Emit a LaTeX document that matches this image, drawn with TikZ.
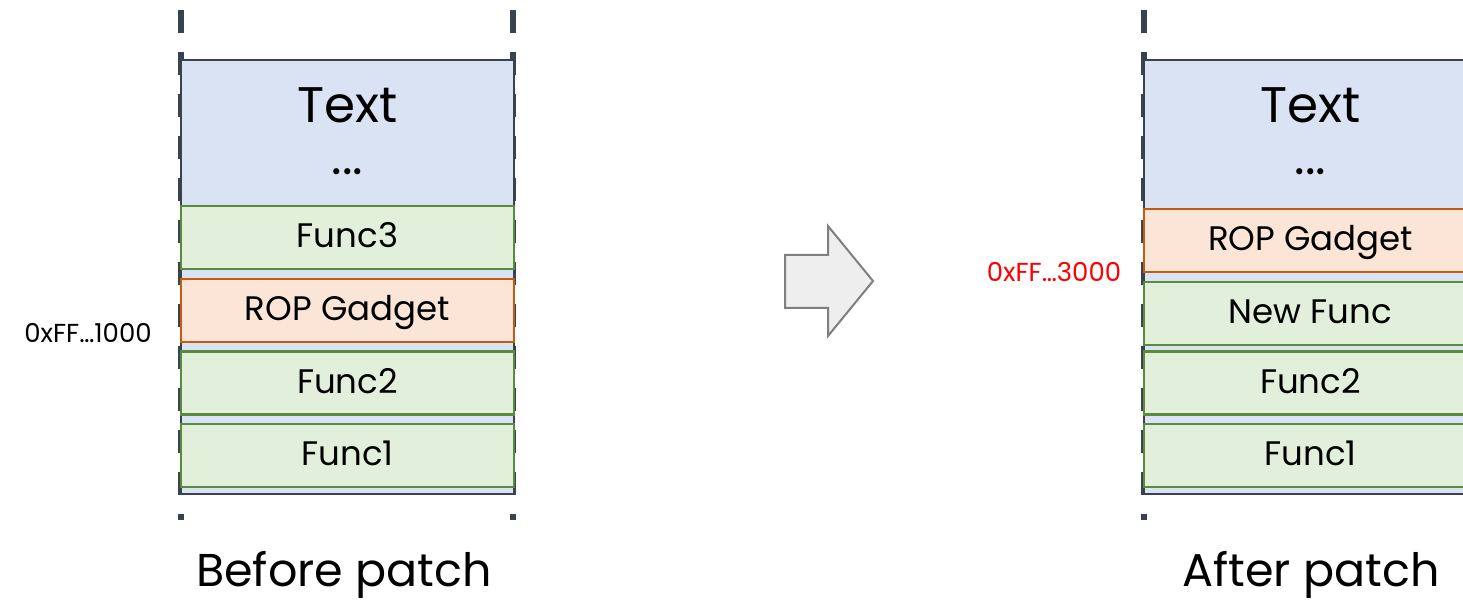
\documentclass[tikz,border=0pt]{standalone}
\usepackage{fontspec}
\setmainfont{Poppins}
\definecolor{memfill}{HTML}{DAE3F3}
\definecolor{memline}{HTML}{38434F}
\definecolor{funcfill}{HTML}{E2EFDA}
\definecolor{funcline}{HTML}{5A8A3C}
\definecolor{ropfill}{HTML}{FBE5D6}
\definecolor{ropline}{HTML}{C55A11}
\definecolor{arrowfill}{HTML}{EEEEEE}
\definecolor{arrowline}{HTML}{7F7F7F}
\begin{document}
\begin{tikzpicture}[x=1pt,y=-1pt,
  boundary/.style={memline,line width=5.5pt,dash pattern=on 23pt off 19pt},
  memory/.style={draw=memline,fill=memfill,line width=2.2pt,minimum width=333pt,minimum height=434pt,inner sep=0pt},
  block/.style={line width=2.2pt,minimum width=333pt,minimum height=63pt,inner sep=0pt,
    text height=24pt,text depth=4pt,font=\fontsize{34}{40}\selectfont},
  funcblock/.style={block,draw=funcline,fill=funcfill},
  ropblock/.style={block,draw=ropline,fill=ropfill},
  bigtext/.style={font=\fontsize{50}{56}\selectfont,inner sep=0pt},
  addr/.style={font=\fontsize{26}{30}\selectfont,inner sep=0pt},
  caption/.style={font=\fontsize{46}{52}\selectfont,inner sep=0pt}]
\useasboundingbox (0,0) rectangle (1463,601);

% address-space boundaries
\coordinate (lt) at (181,10);  \coordinate (lb) at (181,520);
\coordinate (rt) at (513,10);  \coordinate (rb) at (513,520);
\coordinate (Lt) at (1144,10); \coordinate (Lb) at (1144,520);
\coordinate (Rt) at (1476,10); \coordinate (Rb) at (1476,520);
\draw[boundary] (lt) -- (lb);
\draw[boundary] (rt) -- (rb);
\draw[boundary] (Lt) -- (Lb);
\draw[boundary] (Rt) -- (Rb);

% before patch
\node[memory] (memA) at (347.5,277) {};
\node[bigtext] (textA) at (347.5,105) {Text};
\node[bigtext] (dotsA) at (347.5,172) {...};
\node[funcblock] (f3A) at (347.5,237.5) {Func3};
\node[ropblock] (ropA) at (347.5,310.5) {ROP Gadget};
\node[funcblock] (f2A) at (347.5,383) {Func2};
\node[funcblock] (f1A) at (347.5,455.5) {Func1};
\node[addr] (addrA) at (88,333) {0xFF…1000};
\node[caption] (capA) at (344,575) {Before patch};

% after patch
\node[memory] (memB) at (1310.5,277) {};
\node[bigtext] (textB) at (1310.5,105) {Text};
\node[bigtext] (dotsB) at (1310.5,172) {...};
\node[ropblock] (ropB) at (1310.5,240.5) {ROP Gadget};
\node[funcblock] (nfB) at (1310.5,313.5) {New Func};
\node[funcblock] (f2B) at (1310.5,383) {Func2};
\node[funcblock] (f1B) at (1310.5,455.5) {Func1};
\node[addr,text=red] (addrB) at (1054,272) {0xFF…3000};
\node[caption] (capB) at (1311,575) {After patch};

% transition arrow
\draw[draw=arrowline,fill=arrowfill,line width=2pt,line join=miter]
  (785,255) -- (828,255) -- (828,226) -- (873,281) -- (828,336) -- (828,308) -- (785,308) -- cycle;
\end{tikzpicture}
\end{document}
